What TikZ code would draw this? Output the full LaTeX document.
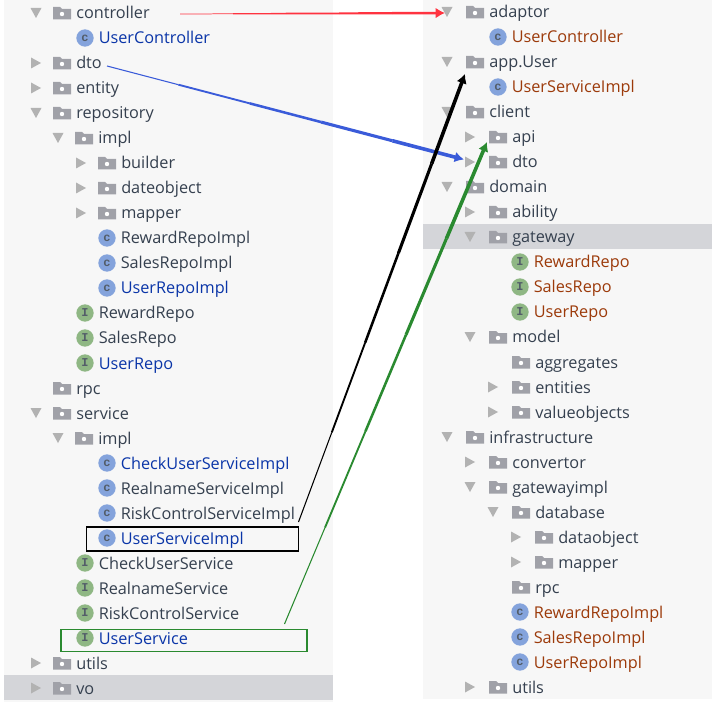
\documentclass[tikz,border=0pt]{standalone}
\usepackage{fontspec}
\setmainfont{Open Sans}
\newfontfamily\iconfont{Liberation Mono}
\usepackage{tikz}
\usetikzlibrary{arrows.meta, calc}
\definecolor{panelgray}{HTML}{F7F7F7}
\definecolor{rowgray}{HTML}{D4D5D9}
\definecolor{foldergray}{HTML}{A0A1A8}
\definecolor{trigray}{HTML}{B2B2B2}
\definecolor{plaintext}{HTML}{35404F}
\definecolor{newtext}{HTML}{0A35A8}
\definecolor{movedtext}{HTML}{9C3A0A}
\definecolor{classblue}{HTML}{84A3DC}
\definecolor{ifacegreen}{HTML}{8FB784}
\definecolor{arrowred}{HTML}{FF3340}
\definecolor{arrowblue}{HTML}{3A5BD9}
\definecolor{arrowgreen}{HTML}{2A8A30}
\tikzset{
  treetext/.style={anchor=base west, inner sep=0pt, font=\fontsize{12.2}{14}\selectfont, text=plaintext},
  classicon/.style={circle, fill=classblue, inner sep=0pt, minimum size=13pt, text=plaintext!85!white, font=\iconfont\bfseries\fontsize{9}{9}\selectfont},
  ifaceicon/.style={classicon, fill=ifacegreen},
  pics/folder/.style={code={
    \fill[foldergray] (-9,-6) -- (-2,-6) -- (0,-4) -- (9,-4) -- (9,6.5) -- (-9,6.5) -- cycle;
    \fill[white] (0,1) circle (2.2);
  }},
  pics/treearrow/.style={code={
    \fill[trigray, rotate=#1] (-5,-5.5) -- (5,0) -- (-5,5.5) -- cycle;
  }},
}
\newcommand{\folderrow}[4]{
  \pic at (#2,#3) {folder};
  \node[treetext] (#1) at (#2+14,#3+6) {#4};
}
% from, to, colour, width factor
\newcommand{\taperarrow}[4]{
  \foreach \a/\b/\w in {0/0.2/0.8, 0.2/0.4/1.4, 0.4/0.6/1.9, 0.6/0.8/2.3}
    \draw[#3, line width=#4*\w pt] ($(#1)!\a!(#2)$) -- ($(#1)!\b!(#2)$);
  \draw[#3, line width=#4*2.7pt, -{Latex[length=7pt,width=8pt]}] ($(#1)!0.8!(#2)$) -- (#2);
}

\begin{document}
\begin{tikzpicture}[x=0.75pt,y=-0.75pt]
  \useasboundingbox (0,0) rectangle (721,709);
  \fill[white] (0,0) rectangle (721,709);
  \fill[panelgray] (4,0) rectangle (333,702);
  \fill[panelgray] (423,0) rectangle (712,699);
  \fill[rowgray] (4,675) rectangle (333,700);
  \fill[rowgray] (423,224) rectangle (712,249);

  % left tree
  \foreach \n/\x/\y/\r/\t in {
    lcontroller/62/13/-90/controller, ldto/62/63/0/dto, lentity/62/88/0/entity,
    lrepository/62/113/-90/repository, limpl/84/138/-90/impl,
    lbuilder/107/163/0/builder, ldateobject/107/188/0/dateobject, lmapper/107/213/0/mapper,
    lservice/62/413/-90/service, lsimpl/84/438/-90/impl,
    lutils/62/663/0/utils, lvo/62/688/0/vo} {
    \pic at (\x-26,\y) {treearrow=\r};
    \folderrow{\n}{\x}{\y}{\t}
  }
  \folderrow{lrpc}{62}{388}{rpc}
  \foreach \n/\x/\y/\s/\c/\l/\t in {
    lusercontroller/85/38/classicon/newtext/c/UserController,
    lrewardimpl/107/238/classicon/plaintext/c/RewardRepoImpl,
    lsalesimpl/107/263/classicon/plaintext/c/SalesRepoImpl,
    luserimpl/107/288/classicon/newtext/c/UserRepoImpl,
    lreward/85/313/ifaceicon/plaintext/I/RewardRepo,
    lsales/85/338/ifaceicon/plaintext/I/SalesRepo,
    luser/85/363/ifaceicon/newtext/I/UserRepo,
    lcheckimpl/107/463/classicon/newtext/c/CheckUserServiceImpl,
    lrealimpl/107/488/classicon/plaintext/c/RealnameServiceImpl,
    lriskimpl/107/513/classicon/plaintext/c/RiskControlServiceImpl,
    luserserviceimpl/107/538/classicon/newtext/c/UserServiceImpl,
    lcheck/85/563/ifaceicon/plaintext/I/CheckUserService,
    lreal/85/588/ifaceicon/plaintext/I/RealnameService,
    lrisk/85/613/ifaceicon/plaintext/I/RiskControlService,
    luserservice/85/638/ifaceicon/newtext/I/UserService} {
    \node[\s] (\n icon) at (\x,\y) {\l};
    \node[treetext, text=\c] (\n) at (\x+13.5,\y+6) {\t};
  }

  % right tree
  \foreach \n/\x/\y/\r/\t in {
    radaptor/475/12/-90/adaptor, rapp/475/62/-90/app.User, rclient/475/112/-90/client,
    rapi/498/137/0/api, rdto/498/162/0/dto, rdomain/475/187/-90/domain,
    rability/498/212/0/ability, rgateway/498/237/-90/gateway, rmodel/498/337/-90/model,
    rentities/521/387/0/entities, rvalue/521/412/0/valueobjects,
    rinfra/475/437/-90/infrastructure, rconvertor/498/462/0/convertor,
    rgatewayimpl/498/487/-90/gatewayimpl, rdatabase/521/512/-90/database,
    rdataobject/544/537/0/dataobject, rmapper/544/562/0/mapper, rutils/498/687/0/utils} {
    \pic at (\x-28,\y) {treearrow=\r};
    \folderrow{\n}{\x}{\y}{\t}
  }
  \folderrow{raggregates}{521}{362}{aggregates}
  \folderrow{rrpc}{521}{587}{rpc}
  \foreach \n/\x/\y/\s/\l/\t in {
    rusercontroller/498/37/classicon/c/UserController,
    ruserserviceimpl/498/87/classicon/c/UserServiceImpl,
    rreward/520/262/ifaceicon/I/RewardRepo,
    rsales/520/287/ifaceicon/I/SalesRepo,
    ruser/520/312/ifaceicon/I/UserRepo,
    rrewardimpl/520/612/classicon/c/RewardRepoImpl,
    rsalesimpl/520/637/classicon/c/SalesRepoImpl,
    ruserimpl/520/662/classicon/c/UserRepoImpl} {
    \node[\s] (\n icon) at (\x,\y) {\l};
    \node[treetext, text=movedtext] (\n) at (\x+13.5,\y+6) {\t};
  }

  \node[draw=black, line width=0.8pt, minimum width=159.5pt, minimum height=18pt, inner sep=0pt] (implbox) at (192.5,539) {};
  \node[draw=arrowgreen, line width=0.8pt, minimum width=184.5pt, minimum height=17pt, inner sep=0pt] (servicebox) at (184,640.5) {};

  \coordinate (redfrom) at (180,14);
  \coordinate (redto) at (445,13);
  \coordinate (bluefrom) at (107,66);
  \coordinate (blueto) at (464,159.5);
  \coordinate (blackfrom) at (298.5,522);
  \coordinate (blackto) at (465,74);
  \coordinate (greenfrom) at (284.5,624);
  \coordinate (greento) at (487,142);
  \taperarrow{redfrom}{redto}{arrowred}{0.7}
  \taperarrow{bluefrom}{blueto}{arrowblue}{1}
  \taperarrow{blackfrom}{blackto}{black}{1}
  \taperarrow{greenfrom}{greento}{arrowgreen}{1}
\end{tikzpicture}
\end{document}
